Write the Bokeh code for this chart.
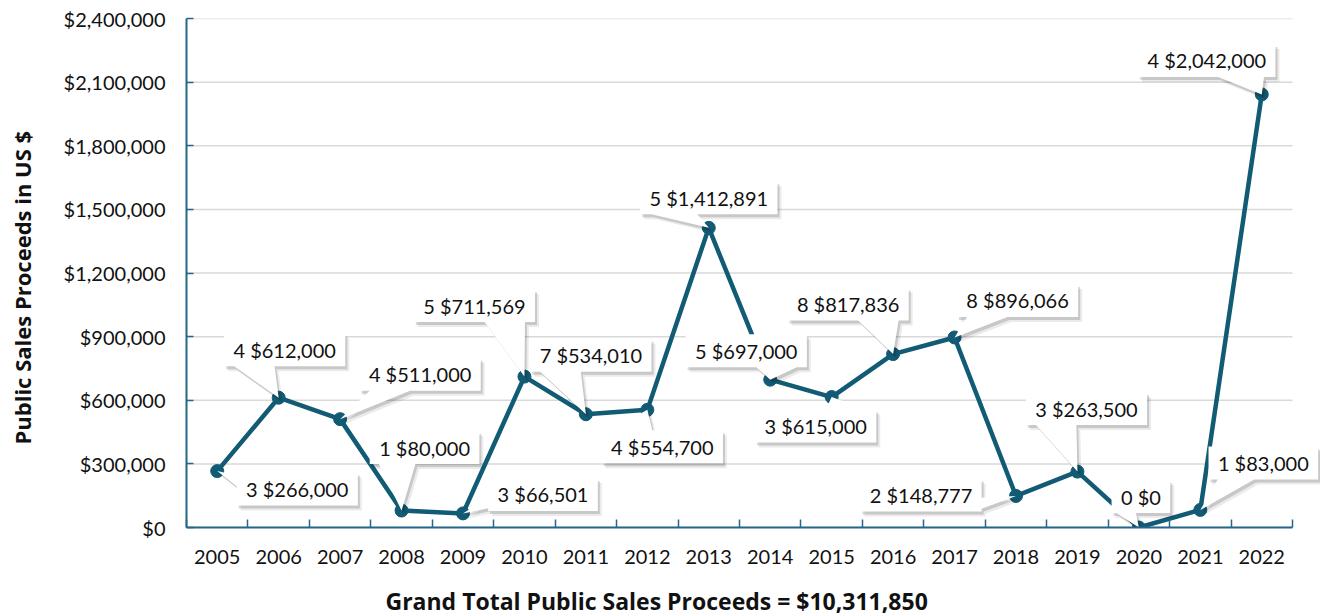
from bokeh.plotting import figure
from bokeh.models import FixedTicker, NumeralTickFormatter, Title
from bokeh.core.properties import value
from bokeh.embed import file_html
from bokeh.resources import INLINE

# ---------------- data ----------------
years = ["2005", "2006", "2007", "2008", "2009", "2010", "2011", "2012", "2013",
         "2014", "2015", "2016", "2017", "2018", "2019", "2020", "2021", "2022"]
proceeds = [266000, 612000, 511000, 80000, 66501, 711569, 534010, 554700, 1412891,
            697000, 615000, 817836, 896066, 148777, 263500, 0, 83000, 2042000]
counts = [3, 4, 4, 1, 3, 5, 7, 4, 5, 5, 3, 8, 8, 2, 3, 0, 1, 4]
y_ticks = [0, 300000, 600000, 900000, 1200000, 1500000, 1800000, 2100000, 2400000]
x_title = "Grand Total Public Sales Proceeds = $10,311,850"
y_title = "Public Sales Proceeds  in US $"

# callout offsets from each point to its box centre (screen px, y downwards) - style only
label_dx = [80, 6, 80, 23, 80, -50, 5, 15, 0, -24, -16, -45, 63, -95, 9, 2, 63, -55]
label_dy = [18, -48, -45, -63, -19, -71, -59, 37, -30, -29, 29, -50, -37, -1, -63, -31, -47, -34]

# ---------------- geometry / style ----------------
LINE = "#125B74"
AXIS = "#23678A"
FONT = "Lato"
TITLE_FONT = "Open Sans"
FS = 20
FIG_W, FIG_H = 1320, 616
B_LEFT, B_RIGHT, B_TOP = 186, 0, 18
FRAME_H = 509
B_BOTTOM = FIG_H - B_TOP - FRAME_H
FRAME_W = FIG_W - B_LEFT - B_RIGHT
n = len(years)
X_START = -0.5
PX_PER_X = 1106 / n
X_END = X_START + FRAME_W / PX_PER_X
Y_MAX = y_ticks[-1]
Y_PER_PX = Y_MAX / FRAME_H

xs_idx = list(range(n))
labels = [f"{c} ${v:,}" for c, v in zip(counts, proceeds)]

CHAR_W = {",": 0.228, " ": 0.193, ".": 0.23}


def text_width(s):
    return sum(CHAR_W.get(ch, 0.58) for ch in s) * FS


BOX_H = 33
PAD = 10


def callout_poly(dx, dy, w, h):
    """Polygon (screen px relative to tip at 0,0, y down) for a rectangle callout."""
    L, R, T, B = dx - w / 2, dx + w / 2, dy - h / 2, dy + h / 2
    tx, ty = -dx, -dy  # tip relative to centre
    pts = [(L, T)]
    if abs(tx) / w >= abs(ty) / h:
        edge = "left" if tx < 0 else "right"
    else:
        edge = "top" if ty < 0 else "bottom"
    if edge == "top":
        a, b = (L + w / 12, L + 5 * w / 12) if tx <= 0 else (L + 7 * w / 12, L + 11 * w / 12)
        pts += [(a, T), (0, 0), (b, T)]
    pts.append((R, T))
    if edge == "right":
        a, b = (T + h / 12, T + 5 * h / 12) if ty <= 0 else (T + 7 * h / 12, T + 11 * h / 12)
        pts += [(R, a), (0, 0), (R, b)]
    pts.append((R, B))
    if edge == "bottom":
        a, b = (L + w / 12, L + 5 * w / 12) if tx <= 0 else (L + 7 * w / 12, L + 11 * w / 12)
        pts += [(b, B), (0, 0), (a, B)]
    pts.append((L, B))
    if edge == "left":
        a, b = (T + h / 12, T + 5 * h / 12) if ty <= 0 else (T + 7 * h / 12, T + 11 * h / 12)
        pts += [(L, b), (0, 0), (L, a)]
    return pts


p = figure(width=FIG_W, height=FIG_H, x_range=(X_START, X_END), y_range=(0, Y_MAX),
           output_backend="svg", toolbar_location=None,
           min_border_left=B_LEFT, min_border_right=B_RIGHT,
           min_border_top=B_TOP, min_border_bottom=B_BOTTOM)
p.outline_line_color = None
p.background_fill_color = "white"
p.border_fill_color = "white"
p.xgrid.visible = False
p.ygrid.visible = False

# gridlines (bounded to the category area)
p.segment(x0=[X_START] * len(y_ticks), x1=[n - 0.5] * len(y_ticks), y0=y_ticks, y1=y_ticks,
          line_color="#D9D9D9", line_width=1.5)

# line + markers
p.line(xs_idx, proceeds, line_color=LINE, line_width=4.5)
p.scatter(xs_idx, proceeds, size=13, fill_color=LINE, line_color=LINE)

# callouts
cx, cy, shx1, shy1, shx2, shy2, bx, by = [], [], [], [], [], [], [], []
for i, (v, lab, dx, dy) in enumerate(zip(proceeds, labels, label_dx, label_dy)):
    w = text_width(lab) + 2 * PAD
    poly = callout_poly(dx, dy, w, BOX_H)
    bx.append([i + px / PX_PER_X for px, py in poly])
    by.append([v - py * Y_PER_PX for px, py in poly])
    shx1.append([i + (px + 2) / PX_PER_X for px, py in poly])
    shy1.append([v - (py + 3) * Y_PER_PX for px, py in poly])
    shx2.append([i + (px + 4) / PX_PER_X for px, py in poly])
    shy2.append([v - (py + 5) * Y_PER_PX for px, py in poly])
    cx.append(i + dx / PX_PER_X)
    cy.append(v - dy * Y_PER_PX)

p.patches(shx2, shy2, fill_color="black", fill_alpha=0.08, line_color=None)
p.patches(shx1, shy1, fill_color="black", fill_alpha=0.15, line_color=None)
p.patches(bx, by, fill_color="white", line_color=None)
p.text(cx, cy, text=labels, text_align="center", text_baseline="middle",
       text_font=value(FONT), text_font_size=f"{FS}px", text_color="#111111")

# axes
xa = p.xaxis[0]
xa.ticker = FixedTicker(ticks=xs_idx, minor_ticks=[i - 0.5 for i in range(n + 1)])
xa.major_label_overrides = {i: y for i, y in enumerate(years)}
xa.bounds = (X_START, n - 0.5)
xa.major_tick_line_color = None
xa.minor_tick_in = 8
xa.minor_tick_out = 0
xa.minor_tick_line_color = AXIS
xa.minor_tick_line_width = 1.5
xa.axis_line_color = AXIS
xa.axis_line_width = 2
xa.major_label_standoff = 16
xa.major_label_text_font = FONT
xa.major_label_text_font_size = f"{FS}px"
xa.major_label_text_color = "#111111"
# blank spacer label pushes the title outward
xa.axis_label = " "
xa.axis_label_text_font_size = "10px"
xa.axis_label_standoff = 2

ya = p.yaxis[0]
ya.ticker = FixedTicker(ticks=y_ticks)
ya.formatter = NumeralTickFormatter(format="$0,0")
ya.major_tick_in = 7
ya.major_tick_out = 0
ya.major_tick_line_color = AXIS
ya.major_tick_line_width = 1.5
ya.minor_tick_line_color = None
ya.axis_line_color = AXIS
ya.axis_line_width = 2
ya.major_label_standoff = 21
ya.major_label_text_font = FONT
ya.major_label_text_font_size = f"{FS}px"
ya.major_label_text_color = "#111111"
ya.axis_label = " "
ya.axis_label_text_font_size = "10px"
ya.axis_label_standoff = 10

# axis titles (Titles can be shifted along the side, as in the reference)
p.add_layout(Title(text=y_title, align="left", offset=83, standoff=0,
                   text_font=TITLE_FONT, text_font_style="bold", text_font_size="22px",
                   text_color="#111111"), "left")
p.add_layout(Title(text=x_title, align="left", offset=199, standoff=0,
                   text_font=TITLE_FONT, text_font_style="bold", text_font_size="23px",
                   text_color="#111111"), "below")

open("out.html", "w").write(file_html(p, INLINE))
